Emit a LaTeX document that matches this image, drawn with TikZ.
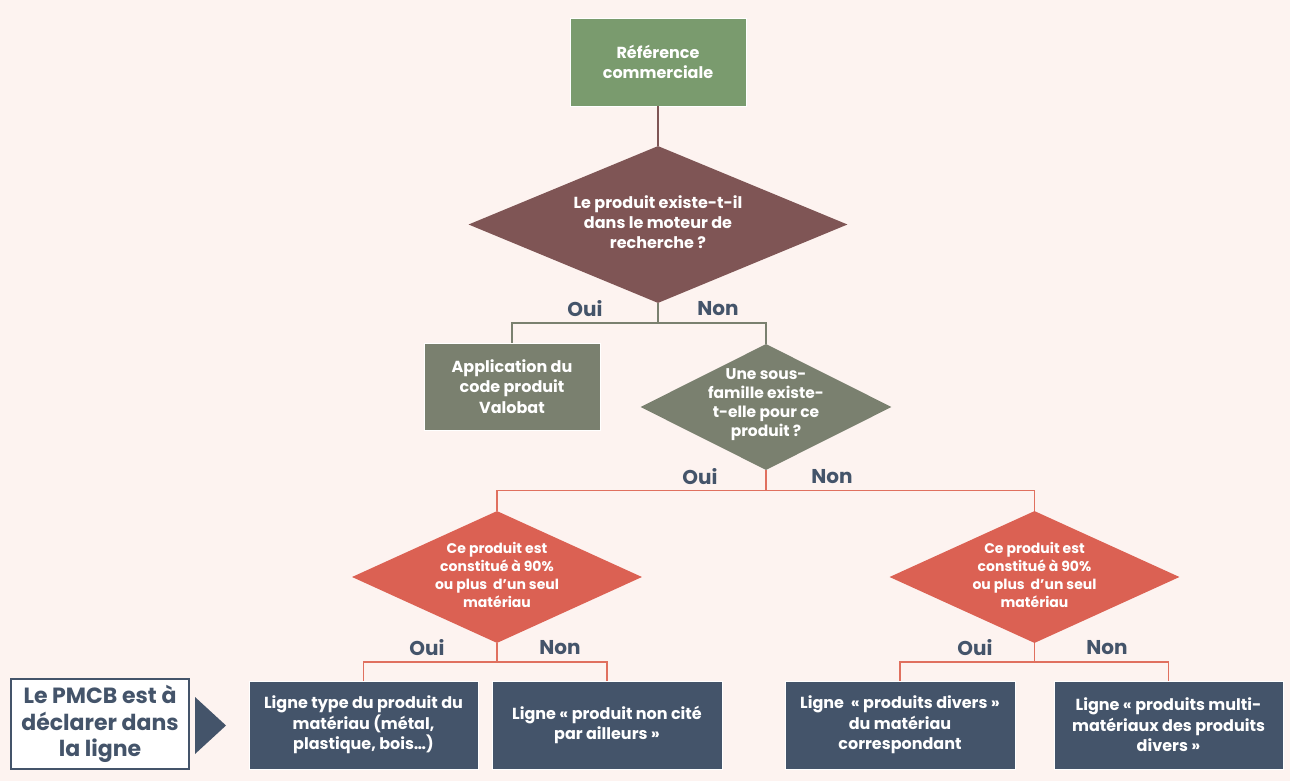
\documentclass[tikz,border=0pt]{standalone}
\usepackage{fontspec}
\setmainfont{Poppins}
\usetikzlibrary{shapes.geometric}
\definecolor{bgc}{HTML}{FDF3F0}
\definecolor{topgreen}{HTML}{7A9B6E}
\definecolor{brownc}{HTML}{7F5555}
\definecolor{grayc}{HTML}{7A806F}
\definecolor{redc}{HTML}{DB6153}
\definecolor{redl}{HTML}{E0705F}
\definecolor{navy}{HTML}{44546A}
\tikzset{
  box/.style={rectangle, draw=white, line width=0.8pt, text=white, align=center, font=\bfseries\fontsize{16}{20.5}\selectfont, inner sep=0pt},
  dia/.style={diamond, draw=none, inner sep=0pt},
  diatext/.style={text=white, align=center, font=\bfseries\fontsize{16}{20}\selectfont, inner sep=0pt},
  yn/.style={text=navy, font=\bfseries\fontsize{20}{22}\selectfont, inner sep=0pt},
  conn/.style={line width=1.8pt}
}
\begin{document}
\begin{tikzpicture}[x=1pt,y=-1pt]
\fill[bgc] (0,0) rectangle (1290,781);
\useasboundingbox (0,0) rectangle (1290,781);

% top
\node[box, fill=topgreen, minimum width=176, minimum height=88] (top) at (658,62) {Référence\\commerciale};
\node[dia, fill=brownc, minimum width=379, minimum height=157] (d1) at (658,224.5) {};
\node[diatext] (d1t) at (658,222) {Le produit existe-t-il\\dans le moteur de\\recherche ?};
\draw[conn, brownc] (top.south) -- (d1.north);

\node[yn] (o1) at (585,309) {Oui};
\node[yn] (n1) at (718,309) {Non};

\node[box, fill=grayc, minimum width=176, minimum height=87] (app) at (512,386.5) {Application du\\code produit\\Valobat};
\node[dia, fill=grayc, minimum width=251, minimum height=126] (d2) at (766,407) {};
\node[diatext, font=\bfseries\fontsize{15.5}{19}\selectfont] (d2t) at (766,405) {Une sous-\\famille existe-\\t-elle pour ce\\produit ?};
\coordinate (j1) at (658,323);
\draw[conn, grayc] (d1.south) -- (j1);
\draw[conn, grayc] (j1) -| (app.north);
\draw[conn, grayc] (j1) -| (d2.north);

\node[yn] (o2) at (700,477) {Oui};
\node[yn] (n2) at (832,477) {Non};

\node[dia, fill=redc, minimum width=290, minimum height=132] (d3) at (497,577) {};
\node[diatext, font=\bfseries\fontsize{14}{18}\selectfont] (d3t) at (497,575) {Ce produit est\\constitué à 90\%\\ou plus~ d’un seul\\matériau};
\node[dia, fill=redc, minimum width=290, minimum height=132] (d4) at (1034.5,577) {};
\node[diatext, font=\bfseries\fontsize{14}{18}\selectfont] (d4t) at (1034.5,575) {Ce produit est\\constitué à 90\%\\ou plus~ d’un seul\\matériau};
\coordinate (j2) at (766,490.5);
\draw[conn, redl] (d2.south) -- (j2);
\draw[conn, redl] (j2) -| (d3.north);
\draw[conn, redl] (j2) -| (d4.north);

\node[yn] (o3) at (427,648) {Oui};
\node[yn] (n3) at (560,648) {Non};
\node[yn] (o4) at (975,648) {Oui};
\node[yn] (n4) at (1107,648) {Non};

\node[box, fill=navy, minimum width=229, minimum height=88] (b1) at (363.5,725) {Ligne type du produit du\\matériau (métal,\\plastique, bois…)};
\node[box, fill=navy, minimum width=230, minimum height=88] (b2) at (607,725) {Ligne « produit non cité\\par ailleurs »};
\node[box, fill=navy, minimum width=230, minimum height=88] (b3) at (900,725) {Ligne~ « produits divers »\\du matériau\\correspondant};
\node[box, fill=navy, minimum width=229, minimum height=88] (b4) at (1168.5,725) {Ligne « produits multi-\\matériaux des produits\\divers »};

\coordinate (j3) at (497,662);
\coordinate (j4) at (1034.5,662);
\draw[conn, redl] (d3.south) -- (j3);
\draw[conn, redl] (j3) -| (b1.north);
\draw[conn, redl] (j3) -| (b2.north);
\draw[conn, redl] (d4.south) -- (j4);
\draw[conn, redl] (j4) -| (b3.north);
\draw[conn, redl] (j4) -| (b4.north);

\node[rectangle, draw=navy, line width=1.2pt, fill=white, text=navy, align=center, font=\bfseries\fontsize{22}{26.5}\selectfont, minimum width=178, minimum height=90, inner sep=0pt] (pmcb) at (100,724) {Le PMCB est à\\déclarer dans\\la ligne};
\fill[navy] (195,697) -- (226,725.5) -- (195,754) -- cycle;
\end{tikzpicture}
\end{document}
